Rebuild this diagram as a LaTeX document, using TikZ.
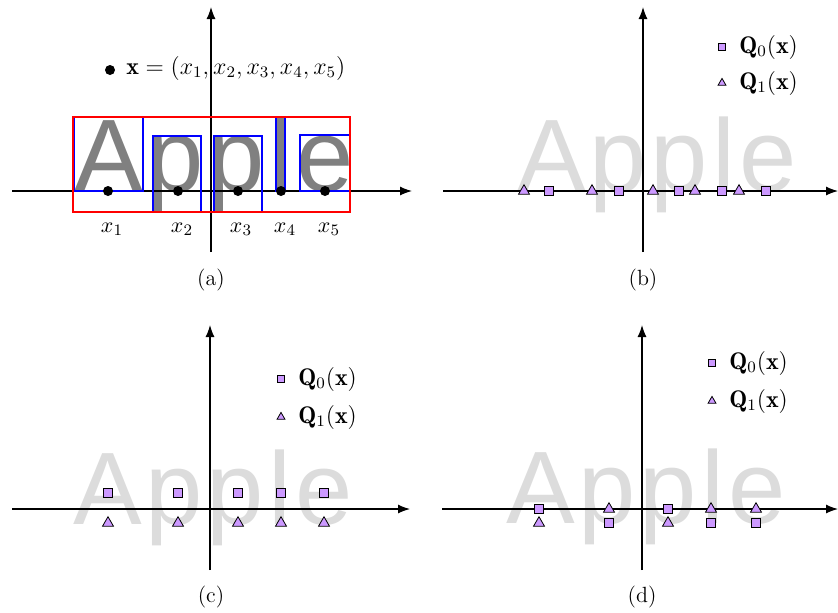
\documentclass[tikz,border=0pt]{standalone}
\usepackage{fontspec}
\usetikzlibrary{arrows.meta,shapes.geometric}
\newfontfamily\applefont{Liberation Sans}
\definecolor{lav}{RGB}{204,153,255}
\definecolor{applelight}{RGB}{220,220,220}
\definecolor{appledark}{RGB}{128,128,128}
\tikzset{
  axisline/.style={line width=0.6pt,-{Latex[length=6pt,width=4.5pt]}},
  letter/.style={anchor=base west,inner sep=0pt,outer sep=0pt,font=\applefont\fontsize{51.5}{60}\selectfont},
  sqmark/.style={draw=black,fill=lav,rectangle,minimum size=4.2pt,inner sep=0pt,line width=0.4pt},
  trimark/.style={draw=black,fill=lav,regular polygon,regular polygon sides=3,minimum size=6.3pt,inner sep=0pt,line width=0.4pt},
  sqleg/.style={sqmark,minimum size=3.2pt},
  trileg/.style={trimark,minimum size=4.6pt},
  dotmark/.style={circle,fill=black,minimum size=5pt,inner sep=0pt},
  caption/.style={inner sep=0pt,font=\fontsize{11}{13}\selectfont},
  xlabel/.style={anchor=base,inner sep=0pt,font=\fontsize{11}{13}\selectfont},
  legtext/.style={anchor=base west,inner sep=0pt,font=\large},
  redbox/.style={draw=red,line width=0.75pt},
  bluebox/.style={draw=blue,line width=0.75pt},
}
\newcommand{\appleword}[4]{%
  \node[letter,text=#4] (#1A) at ({#2-137},#3) {A};
  \node[letter,text=#4] (#1p) at ({#2-65},#3) {p};
  \node[letter,text=#4] (#1pp) at ({#2-4},#3) {p};
  \node[letter,text=#4] (#1l) at ({#2+58},#3) {l};
  \node[letter,text=#4] (#1e) at ({#2+85},#3) {e};
}
\begin{document}
\begin{tikzpicture}[x=0.5pt,y=-0.5pt]
\useasboundingbox (0,0) rectangle (838,612);
% ---------------- (a) ----------------
\appleword{a}{211}{191}{appledark}
\coordinate (aL) at (12,191); \coordinate (aR) at (412,191);
\coordinate (aB) at (211,252); \coordinate (aT) at (211,7);
\draw[axisline] (aL) -- (aR);
\draw[axisline] (aB) -- (aT);
\draw[bluebox] (74,117) rectangle (143,191);
\draw[bluebox] (153,136) rectangle (201,212);
\draw[bluebox] (214,136) rectangle (262,212);
\draw[bluebox] (276,117) rectangle (285,191);
\draw[bluebox] (300,135) rectangle (350,191);
\draw[redbox] (73,117) rectangle (350,212);
\node[dotmark] (ad1) at (108,191) {};
\node[dotmark] (ad2) at (178,191) {};
\node[dotmark] (ad3) at (238,191) {};
\node[dotmark] (ad4) at (281,191) {};
\node[dotmark] (ad5) at (325,191) {};
\node[xlabel] (ax1) at (112,232) {$x_1$};
\node[xlabel] (ax2) at (182,232) {$x_2$};
\node[xlabel] (ax3) at (241,232) {$x_3$};
\node[xlabel] (ax4) at (285,232) {$x_4$};
\node[xlabel] (ax5) at (329,232) {$x_5$};
\node[dotmark] (aeqdot) at (110,70) {};
\node[legtext] (aeq) at (126,74) {$\mathbf{x}=(x_1,x_2,x_3,x_4,x_5)$};
\node[caption] (acap) at (211,280) {(a)};
% ---------------- (b) ----------------
\appleword{b}{654}{191}{applelight}
\coordinate (bL) at (443,191); \coordinate (bR) at (838,191);
\coordinate (bB) at (643,252); \coordinate (bT) at (643,7);
\draw[axisline] (bL) -- (bR);
\draw[axisline] (bB) -- (bT);
\node[trimark] (bt1) at (524,191) {};
\node[sqmark] (bs1) at (549,191) {};
\node[trimark] (bt2) at (592,191) {};
\node[sqmark] (bs2) at (619,191) {};
\node[trimark] (bt3) at (653,191) {};
\node[sqmark] (bs3) at (679,191) {};
\node[trimark] (bt4) at (695,191) {};
\node[sqmark] (bs4) at (722,191) {};
\node[trimark] (bt5) at (739,191) {};
\node[sqmark] (bs5) at (766,191) {};
\node[sqleg] (blq0) at (722,47) {};
\node[legtext] (blt0) at (739,53) {$\mathbf{Q}_0(\mathbf{x})$};
\node[trileg] (blq1) at (722,83) {};
\node[legtext] (blt1) at (739,89) {$\mathbf{Q}_1(\mathbf{x})$};
\node[caption] (bcap) at (643,280) {(b)};
% ---------------- (c) ----------------
\appleword{c}{210}{524}{applelight}
\coordinate (cL) at (12,509); \coordinate (cR) at (410,509);
\coordinate (cB) at (210,570); \coordinate (cT) at (210,325);
\draw[axisline] (cL) -- (cR);
\draw[axisline] (cB) -- (cT);
\foreach \i/\xx in {1/108,2/178,3/238,4/281,5/324}{
  \node[sqmark] (cs\i) at (\xx,493) {};
  \node[trimark] (ct\i) at (\xx,523) {};
}
\node[sqleg] (clq0) at (281,379) {};
\node[legtext] (clt0) at (298,385) {$\mathbf{Q}_0(\mathbf{x})$};
\node[trileg] (clq1) at (281,417) {};
\node[legtext] (clt1) at (298,423) {$\mathbf{Q}_1(\mathbf{x})$};
\node[caption] (ccap) at (211,597) {(c)};
% ---------------- (d) ----------------
\appleword{d}{643}{523}{applelight}
\coordinate (dL) at (442,509); \coordinate (dR) at (838,509);
\coordinate (dB) at (642,570); \coordinate (dT) at (642,325);
\draw[axisline] (dL) -- (dR);
\draw[axisline] (dB) -- (dT);
\node[sqmark] (ds1) at (539,509) {};
\node[trimark] (dt1) at (539,523) {};
\node[trimark] (dt2) at (609,509) {};
\node[sqmark] (ds2) at (609,523) {};
\node[sqmark] (ds3) at (668,509) {};
\node[trimark] (dt3) at (668,523) {};
\node[trimark] (dt4) at (711,509) {};
\node[sqmark] (ds4) at (711,523) {};
\node[trimark] (dt5) at (756,509) {};
\node[sqmark] (ds5) at (756,523) {};
\node[sqleg] (dlq0) at (712,363) {};
\node[legtext] (dlt0) at (729,369) {$\mathbf{Q}_0(\mathbf{x})$};
\node[trileg] (dlq1) at (712,401) {};
\node[legtext] (dlt1) at (729,407) {$\mathbf{Q}_1(\mathbf{x})$};
\node[caption] (dcap) at (642,597) {(d)};
\end{tikzpicture}
\end{document}
